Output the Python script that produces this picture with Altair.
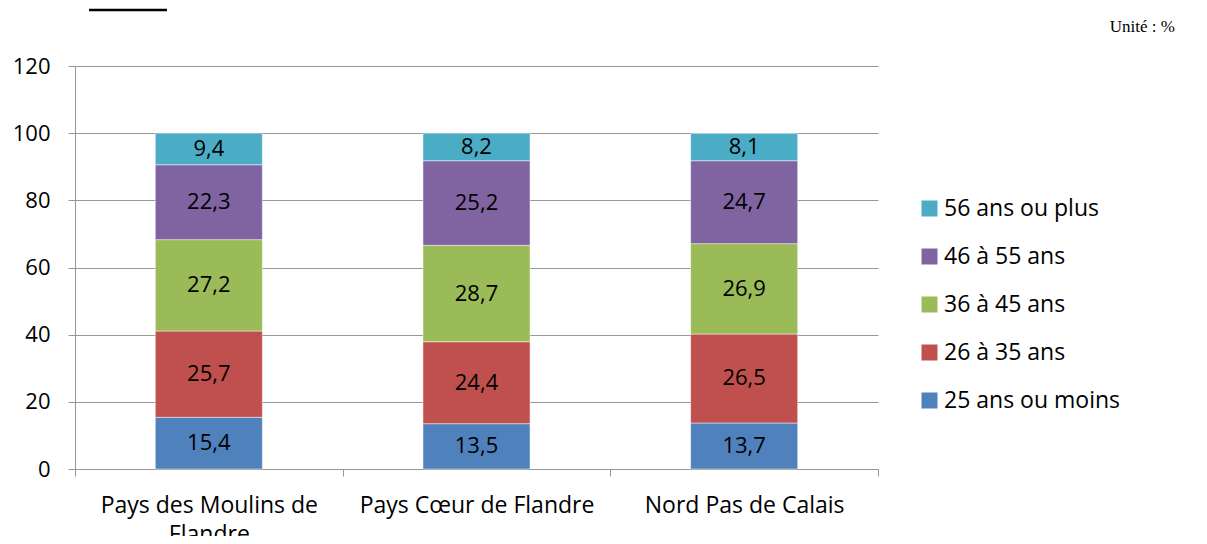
import altair as alt
import pandas as pd

categories = ["Pays des Moulins de Flandre", "Pays Cœur de Flandre", "Nord Pas de Calais"]
groups = ["25 ans ou moins", "26 à 35 ans", "36 à 45 ans", "46 à 55 ans", "56 ans ou plus"]
v_25_moins = [15.4, 13.5, 13.7]
v_26_35 = [25.7, 24.4, 26.5]
v_36_45 = [27.2, 28.7, 26.9]
v_46_55 = [22.3, 25.2, 24.7]
v_56_plus = [9.4, 8.2, 8.1]
series = [v_25_moins, v_26_35, v_36_45, v_46_55, v_56_plus]
colors = ["#4F81BD", "#C0504D", "#9BBB59", "#8064A2", "#4BACC6"]
y_ticks = [0, 20, 40, 60, 80, 100, 120]

rows = []
for gi, (g, vals) in enumerate(zip(groups, series)):
    for c, v in zip(categories, vals):
        rows.append({"zone": c, "age": g, "ordre": gi, "valeur": v,
                     "etiquette": f"{v:.1f}".replace(".", ",")})
df = pd.DataFrame(rows)

FONT = "Open Sans"
FS = 22
GRID = "#979797"

legend_domain = groups[::-1]
legend_range = colors[::-1]

x_enc = alt.X(
    "zone:N", sort=categories,
    scale=alt.Scale(paddingInner=0, paddingOuter=0),
    axis=alt.Axis(
        title=None, labelAngle=0, grid=False,
        labelExpr="datum.label == 'Pays des Moulins de Flandre' ? ['Pays des Moulins de', 'Flandre'] : datum.label",
        tickBand="extent", tickSize=7, tickColor=GRID, domainColor=GRID,
        labelFont=FONT, labelFontSize=23, labelColor="black", labelLimit=0,
        labelPadding=18, labelLineHeight=29,
    ),
)
y_enc = alt.Y(
    "valeur:Q", stack="zero",
    scale=alt.Scale(domain=[0, 120], nice=False),
    axis=alt.Axis(
        title=None, values=y_ticks, grid=True, gridColor=GRID,
        tickSize=7, tickColor=GRID, domainColor=GRID,
        labelFont=FONT, labelFontSize=FS, labelColor="black", labelPadding=18,
    ),
)

base = alt.Chart(df)

bars = base.mark_bar(
    width=alt.RelativeBandSize(0.4), stroke="white", strokeWidth=0.8, strokeOpacity=0.6
).encode(
    x=x_enc,
    y=y_enc,
    color=alt.Color(
        "age:N",
        scale=alt.Scale(domain=legend_domain, range=legend_range),
        legend=alt.Legend(
            title=None, orient="none", legendX=843, legendY=131,
            symbolType="square", symbolSize=256, symbolStrokeWidth=0,
            labelFont=FONT, labelFontSize=23, labelColor="black", labelLimit=0,
            labelOffset=3, rowPadding=24, padding=0,
        ),
    ),
    order=alt.Order("ordre:Q"),
)

labels = base.transform_stack(
    stack="valeur", groupby=["zone"], sort=[alt.SortField("ordre")], as_=["y0", "y1"]
).transform_calculate(
    mid="(datum.y0 + datum.y1) / 2"
).mark_text(font=FONT, fontSize=FS, color="black", baseline="middle").encode(
    x=alt.X("zone:N", sort=categories),
    y=alt.Y("mid:Q"),
    text="etiquette:N",
)

unite = alt.Chart(pd.DataFrame({"t": ["Unité : %"]})).mark_text(
    font="Liberation Serif", fontSize=17, color="black", align="right", baseline="middle"
).encode(x=alt.value(1100), y=alt.value(-39), text="t:N")

titre = alt.Chart(pd.DataFrame({"t": ["2000"]})).mark_text(
    font="DejaVu Serif", fontSize=26, fontWeight="bold", fontStyle="italic",
    color="black", align="left", baseline="alphabetic"
).encode(x=alt.value(14), y=alt.value(-61), text="t:N")

souligne = alt.Chart(pd.DataFrame({"t": ["2000"]})).mark_rule(color="black", strokeWidth=2.5).encode(
    x=alt.value(14), x2=alt.value(92), y=alt.value(-56)
)

chart = alt.layer(bars, labels, unite, titre, souligne).properties(
    width=803, height=403,
    autosize=alt.AutoSizeParams(type="none"),
    padding={"left": 67, "top": 58, "right": 300, "bottom": 67},
).configure_view(stroke=None)

chart.save("out.html", embed_options={"renderer": "svg", "actions": False})
